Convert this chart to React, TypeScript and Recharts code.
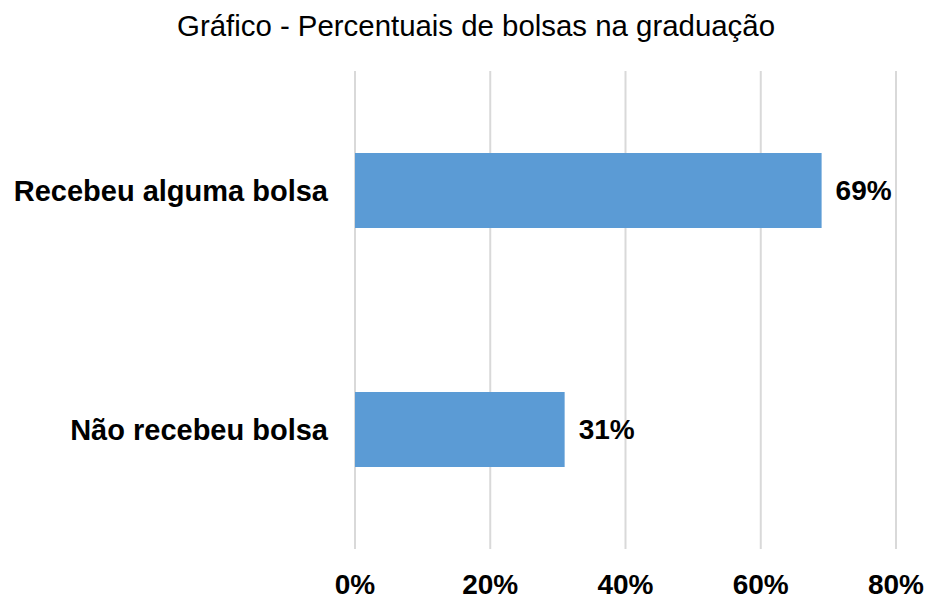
import { BarChart, Bar, XAxis, YAxis, CartesianGrid, LabelList } from 'recharts'

const FONT = "Arial, 'Liberation Sans', Helvetica, sans-serif"
const BLUE = '#5B9BD5'
const GRID = '#d9d9d9'

const TITLE = 'Gráfico - Percentuais de bolsas na graduação'
const categories = ['Recebeu alguma bolsa', 'Não recebeu bolsa']
const percents = [69, 31]
const xTicks = [0, 20, 40, 60, 80]

const data = categories.map((name, i) => ({ name, value: percents[i] }))

export default function App() {
  return (
    <div style={{ position: 'absolute', left: 0, top: 0, width: 932, height: 602, background: '#fff' }}>
      {/* title */}
      <div style={{
        position: 'absolute', left: 0, top: 11, width: 952, textAlign: 'center',
        fontFamily: FONT, fontSize: 29.4, lineHeight: '29px', color: '#000',
      }}>
        {TITLE}
      </div>
      <BarChart
        width={932}
        height={602}
        data={data}
        layout="vertical"
        margin={{ top: 71, right: 36, bottom: 0, left: 0 }}
      >
        <CartesianGrid horizontal={false} stroke={GRID} strokeWidth={2} />
        <XAxis
          type="number"
          domain={[0, 80]}
          ticks={xTicks}
          tickFormatter={v => `${v}%`}
          axisLine={false}
          tickLine={false}
          tickSize={0}
          tickMargin={25}
          height={53}
          interval={0}
          tick={{ fill: '#000', fontSize: 28, fontWeight: 'bold', fontFamily: FONT }}
        />
        <YAxis
          type="category"
          dataKey="name"
          axisLine={false}
          tickLine={false}
          tickSize={0}
          tickMargin={27}
          width={355}
          tick={{ fill: '#000', fontSize: 29, fontWeight: 'bold', fontFamily: FONT }}
        />
        <Bar dataKey="value" fill={BLUE} barSize={75} isAnimationActive={false}>
          <LabelList
            dataKey="value"
            position="right"
            offset={14}
            formatter={(v: number) => `${v}%`}
            style={{ fill: '#000', fontSize: 28, fontWeight: 'bold', fontFamily: FONT }}
          />
        </Bar>
      </BarChart>
    </div>
  )
}
